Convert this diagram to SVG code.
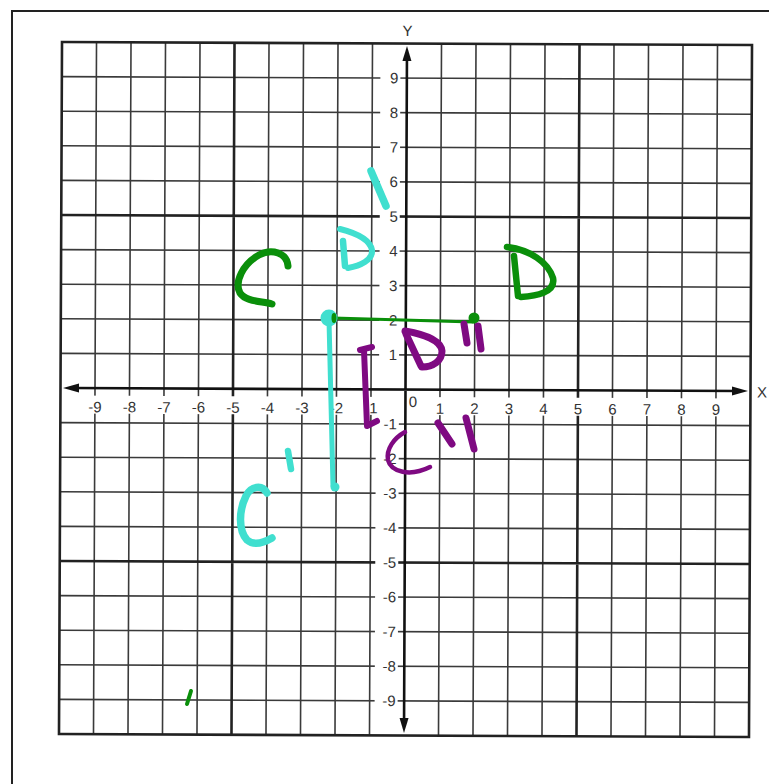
<svg xmlns="http://www.w3.org/2000/svg" width="769" height="784" viewBox="0 0 769 784">
<style>
.g{stroke:#3a3a3a;stroke-width:1.6;fill:none}
.gb{stroke:#222;stroke-width:2.6;fill:none}
.ax{stroke:#111;stroke-width:2.6;fill:none}
.lb{font-family:"Liberation Sans",Arial,sans-serif;font-size:15px;fill:#333}
.bg{fill:#fff}
.hg{stroke:#0a8f0a;fill:none;stroke-linecap:round;stroke-linejoin:round}
.hc{stroke:#40dfcf;fill:none;stroke-linecap:round;stroke-linejoin:round}
.hp{stroke:#7f0a82;fill:none;stroke-linecap:round;stroke-linejoin:round}
</style>
<rect x="0" y="0" width="769" height="784" fill="#fff"/>
<rect x="12" y="11" width="800" height="800" fill="none" stroke="#222" stroke-width="2"/>
<g id="grid" transform="rotate(0.25 405.5 389.5)">
<g id="gridlines">
<path class="g" d="M95 43.5V735.5M129.5 43.5V735.5M164 43.5V735.5M198.5 43.5V735.5M267.5 43.5V735.5M302 43.5V735.5M336.5 43.5V735.5M371 43.5V735.5M440 43.5V735.5M474.5 43.5V735.5M509 43.5V735.5M543.5 43.5V735.5M612.5 43.5V735.5M647 43.5V735.5M681.5 43.5V735.5M716 43.5V735.5"/>
<path class="g" d="M60.5 78.1H750.5M60.5 112.7H750.5M60.5 147.3H750.5M60.5 181.9H750.5M60.5 251.1H750.5M60.5 285.7H750.5M60.5 320.3H750.5M60.5 354.9H750.5M60.5 424.1H750.5M60.5 458.7H750.5M60.5 493.3H750.5M60.5 527.9H750.5M60.5 597.1H750.5M60.5 631.7H750.5M60.5 666.3H750.5M60.5 700.9H750.5"/>
<path class="gb" d="M233 43.5V735.5M578 43.5V735.5M60.5 216.5H750.5M60.5 562.5H750.5"/>
<rect class="gb" x="60.5" y="43.5" width="690" height="692"/>
</g>
<g id="labels">
<rect class="bg" x="379" y="70" width="20" height="16"/><text class="lb" x="397" y="83.4" text-anchor="end">9</text>
<rect class="bg" x="379" y="104.7" width="20" height="16"/><text class="lb" x="397" y="118" text-anchor="end">8</text>
<rect class="bg" x="379" y="139.3" width="20" height="16"/><text class="lb" x="397" y="152.6" text-anchor="end">7</text>
<rect class="bg" x="379" y="173.9" width="20" height="16"/><text class="lb" x="397" y="187.2" text-anchor="end">6</text>
<rect class="bg" x="379" y="208.5" width="20" height="16"/><text class="lb" x="397" y="221.8" text-anchor="end">5</text>
<rect class="bg" x="379" y="243.1" width="20" height="16"/><text class="lb" x="397" y="256.4" text-anchor="end">4</text>
<rect class="bg" x="379" y="277.7" width="20" height="16"/><text class="lb" x="397" y="291" text-anchor="end">3</text>
<rect class="bg" x="379" y="312.3" width="20" height="16"/><text class="lb" x="397" y="325.6" text-anchor="end">2</text>
<rect class="bg" x="379" y="346.9" width="20" height="16"/><text class="lb" x="397" y="360.2" text-anchor="end">1</text>
<rect class="bg" x="376" y="416.1" width="23" height="16"/><text class="lb" x="397" y="429.4" text-anchor="end">-1</text>
<rect class="bg" x="376" y="450.7" width="23" height="16"/><text class="lb" x="397" y="464" text-anchor="end">-2</text>
<rect class="bg" x="376" y="485.3" width="23" height="16"/><text class="lb" x="397" y="498.6" text-anchor="end">-3</text>
<rect class="bg" x="376" y="519.9" width="23" height="16"/><text class="lb" x="397" y="533.2" text-anchor="end">-4</text>
<rect class="bg" x="376" y="554.5" width="23" height="16"/><text class="lb" x="397" y="567.8" text-anchor="end">-5</text>
<rect class="bg" x="376" y="589.1" width="23" height="16"/><text class="lb" x="397" y="602.4" text-anchor="end">-6</text>
<rect class="bg" x="376" y="623.7" width="23" height="16"/><text class="lb" x="397" y="637" text-anchor="end">-7</text>
<rect class="bg" x="376" y="658.3" width="23" height="16"/><text class="lb" x="397" y="671.6" text-anchor="end">-8</text>
<rect class="bg" x="376" y="692.9" width="23" height="16"/><text class="lb" x="397" y="706.2" text-anchor="end">-9</text>
<g text-anchor="middle">
<rect class="bg" x="83" y="397" width="24" height="18"/><text class="lb" x="95" y="413.5">-9</text>
<rect class="bg" x="117.5" y="397" width="24" height="18"/><text class="lb" x="129.5" y="413.5">-8</text>
<rect class="bg" x="152" y="397" width="24" height="18"/><text class="lb" x="164" y="413.5">-7</text>
<rect class="bg" x="186.5" y="397" width="24" height="18"/><text class="lb" x="198.5" y="413.5">-6</text>
<rect class="bg" x="221" y="397" width="24" height="18"/><text class="lb" x="233" y="413.5">-5</text>
<rect class="bg" x="255.5" y="397" width="24" height="18"/><text class="lb" x="267.5" y="413.5">-4</text>
<rect class="bg" x="290" y="397" width="24" height="18"/><text class="lb" x="302" y="413.5">-3</text>
<rect class="bg" x="324.5" y="397" width="24" height="18"/><text class="lb" x="336.5" y="413.5">-2</text>
<rect class="bg" x="359" y="397" width="24" height="18"/><text class="lb" x="371" y="413.5">-1</text>
<text class="lb" x="413" y="407">0</text>
<rect class="bg" x="432" y="397" width="16" height="18"/><text class="lb" x="440" y="413.5">1</text>
<rect class="bg" x="466.5" y="397" width="16" height="18"/><text class="lb" x="474.5" y="413.5">2</text>
<rect class="bg" x="501" y="397" width="16" height="18"/><text class="lb" x="509" y="413.5">3</text>
<rect class="bg" x="535.5" y="397" width="16" height="18"/><text class="lb" x="543.5" y="413.5">4</text>
<rect class="bg" x="570" y="397" width="16" height="18"/><text class="lb" x="578" y="413.5">5</text>
<rect class="bg" x="604.5" y="397" width="16" height="18"/><text class="lb" x="612.5" y="413.5">6</text>
<rect class="bg" x="639" y="397" width="16" height="18"/><text class="lb" x="647" y="413.5">7</text>
<rect class="bg" x="673.5" y="397" width="16" height="18"/><text class="lb" x="681.5" y="413.5">8</text>
<rect class="bg" x="708" y="397" width="16" height="18"/><text class="lb" x="716" y="413.5">9</text>
</g>
<text class="lb" x="762" y="396" text-anchor="middle" font-size="17">X</text>
<text class="lb" x="406" y="36" text-anchor="middle" font-size="17">Y</text>
</g>
<g id="axes">
<path class="ax" d="M72 389.5H740M405.5 56V725"/>
<polygon fill="#111" points="63,389.5 79,385 79,394"/>
<polygon fill="#111" points="748,389.5 732,385 732,394"/>
<polygon fill="#111" points="405.5,46 401,61 410,61"/>
<polygon fill="#111" points="405.5,733 401,718 410,718"/>
</g>
</g>
<g id="annotations">
<g id="green">
<path class="hg" stroke-width="7" d="M288,266 C287,253 272,248 259,255 C243,264 234,282 240,293 C246,302 262,301 272,304"/>
<path class="hg" stroke-width="6.5" d="M507,247 C530,250 548,262 553,278 C556,293 535,296 521,297"/>
<path class="hg" stroke-width="6.5" d="M514,256 L518,296"/>
<path class="hg" stroke-width="3" d="M333,318 L473,322"/>
<circle cx="474" cy="318" r="5.5" fill="#0a8f0a"/>
<path class="hg" stroke-width="4" d="M191,691 L187,704"/>
</g>
<g id="cyan">
<path class="hc" stroke-width="5" d="M329,320 L333,486"/>
<circle cx="329" cy="318" r="8.5" fill="#40dfcf"/>
<ellipse cx="334" cy="318" rx="2.5" ry="5" fill="#0a8f0a"/>
<circle cx="335" cy="487" r="4.5" fill="#40dfcf"/>
<path class="hc" stroke-width="7.5" d="M371,171 L386,206"/>
<path class="hc" stroke-width="6" d="M340,229 C356,233 370,240 372,250 C373,260 360,266 348,268"/>
<path class="hc" stroke-width="6.5" d="M343,241 L345,266"/>
<path class="hc" stroke-width="6.5" d="M288,451 L291,469"/>
<path class="hc" stroke-width="7.5" d="M267,493 C262,484 251,486 246,496 C239,510 238,530 247,540 C254,546 265,542 272,538"/>
</g>
<g id="purple">
<path class="hp" stroke-width="7" d="M406,334 L421,366"/>
<path class="hp" stroke-width="7" d="M405,331 C423,334 441,340 442,351 C442,361 433,367 422,367"/>
<path class="hp" stroke-width="7" d="M464,324 L467,343"/>
<path class="hp" stroke-width="7" d="M478,326 L481,349"/>
<path class="hp" stroke-width="6" d="M360,350 L372,347"/>
<path class="hp" stroke-width="6" d="M364,350 L367,426 L377,421"/>
<path class="hp" stroke-width="4.5" d="M405,432 C394,438 386,449 388,460 C391,472 410,477 430,467"/>
<path class="hp" stroke-width="7" d="M438,423 L452,444"/>
<path class="hp" stroke-width="7" d="M466,418 L474,449"/>
</g>
</g>
</svg>
